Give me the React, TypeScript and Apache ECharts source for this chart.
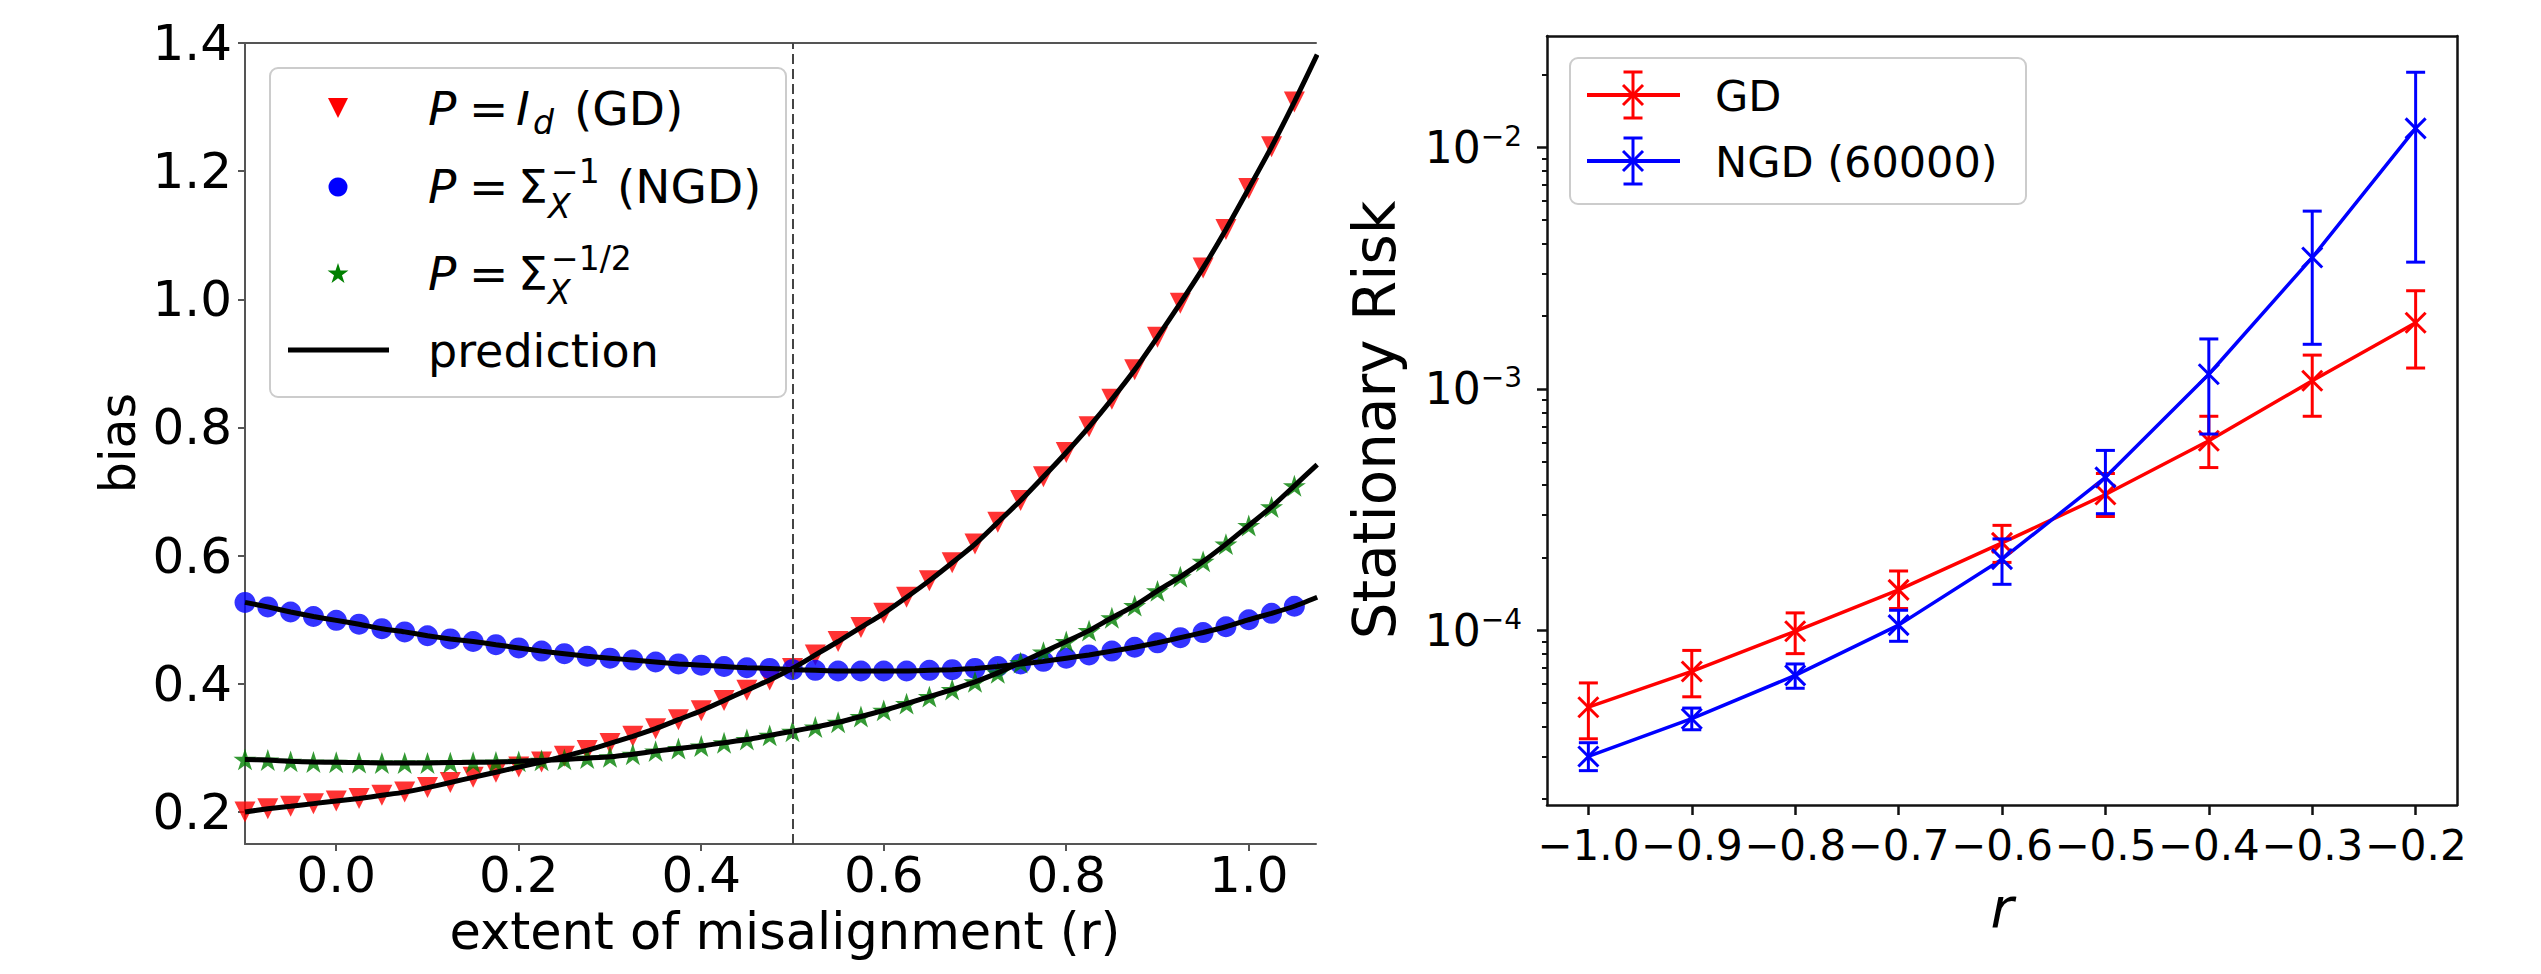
import React, { useEffect, useRef } from "react";
import * as echarts from "echarts";

const FONT = "DejaVu Sans";

// ---------- Left panel: bias vs extent of misalignment ----------
const misalignment = [
  -0.1, -0.075, -0.05, -0.025, 0, 0.025, 0.05, 0.075, 0.1, 0.125, 0.15, 0.175,
  0.2, 0.225, 0.25, 0.275, 0.3, 0.325, 0.35, 0.375, 0.4, 0.425, 0.45, 0.475,
  0.5, 0.525, 0.55, 0.575, 0.6, 0.625, 0.65, 0.675, 0.7, 0.725, 0.75, 0.775,
  0.8, 0.825, 0.85, 0.875, 0.9, 0.925, 0.95, 0.975, 1.0, 1.025, 1.05, 1.075,
];
const biasGD = [
  0.200, 0.205, 0.209, 0.213, 0.217, 0.221, 0.226, 0.231, 0.238, 0.246, 0.254, 0.262,
  0.270, 0.278, 0.287, 0.296, 0.307, 0.318, 0.330, 0.344, 0.358, 0.374, 0.390, 0.406,
  0.424, 0.445, 0.466, 0.488, 0.510, 0.535, 0.561, 0.589, 0.618, 0.652, 0.686, 0.723,
  0.761, 0.801, 0.844, 0.890, 0.941, 0.994, 1.049, 1.109, 1.173, 1.238, 1.308, 1.382,
];
const biasNGD = [
  0.527, 0.520, 0.512, 0.505, 0.499, 0.493, 0.486, 0.481, 0.475, 0.470, 0.466, 0.461,
  0.456, 0.451, 0.447, 0.443, 0.440, 0.437, 0.434, 0.431, 0.429, 0.427, 0.425, 0.424,
  0.422, 0.421, 0.420, 0.420, 0.420, 0.420, 0.421, 0.422, 0.424, 0.427, 0.431, 0.435,
  0.440, 0.445, 0.451, 0.457, 0.464, 0.472, 0.480, 0.489, 0.500, 0.510, 0.521, 0.535,
];
const biasHalf = [
  0.282, 0.281, 0.279, 0.278, 0.2775, 0.277, 0.2765, 0.2765, 0.2765, 0.277, 0.2775, 0.278,
  0.279, 0.2805, 0.282, 0.284, 0.286, 0.290, 0.295, 0.299, 0.303, 0.308, 0.313, 0.3195,
  0.326, 0.3325, 0.340, 0.349, 0.3585, 0.369, 0.380, 0.391, 0.403, 0.417, 0.433, 0.4495,
  0.466, 0.483, 0.503, 0.522, 0.545, 0.567, 0.591, 0.618, 0.647, 0.676, 0.709, 0.742,
];
const thresholdR = 0.5;
const leftXTicks = [0.0, 0.2, 0.4, 0.6, 0.8, 1.0];
const leftYTicks = [0.2, 0.4, 0.6, 0.8, 1.0, 1.2, 1.4];

// ---------- Right panel: stationary risk vs r ----------
const rValues = [-1.0, -0.9, -0.8, -0.7, -0.6, -0.5, -0.4, -0.3, -0.2];
const riskGD = [4.8e-5, 6.75e-5, 9.9e-5, 1.47e-4, 2.3e-4, 3.65e-4, 6.1e-4, 1.08e-3, 1.88e-3];
const riskGDLow = [3.55e-5, 5.3e-5, 8.0e-5, 1.23e-4, 1.91e-4, 2.96e-4, 4.72e-4, 7.7e-4, 1.22e-3];
const riskGDHigh = [6.05e-5, 8.25e-5, 1.18e-4, 1.76e-4, 2.72e-4, 4.46e-4, 7.7e-4, 1.38e-3, 2.55e-3];
const riskNGD = [3.0e-5, 4.3e-5, 6.5e-5, 1.05e-4, 1.97e-4, 4.3e-4, 1.15e-3, 3.5e-3, 1.2e-2];
const riskNGDLow = [2.62e-5, 3.87e-5, 5.75e-5, 9.0e-5, 1.55e-4, 3.04e-4, 6.5e-4, 1.53e-3, 3.35e-3];
const riskNGDHigh = [3.42e-5, 4.76e-5, 7.25e-5, 1.21e-4, 2.39e-4, 5.56e-4, 1.61e-3, 5.45e-3, 2.05e-2];
const rightYMajor = [1e-4, 1e-3, 1e-2];
const rightYMinor = [
  2e-5, 3e-5, 4e-5, 5e-5, 6e-5, 7e-5, 8e-5, 9e-5,
  2e-4, 3e-4, 4e-4, 5e-4, 6e-4, 7e-4, 8e-4, 9e-4,
  2e-3, 3e-3, 4e-3, 5e-3, 6e-3, 7e-3, 8e-3, 9e-3,
  2e-2,
];

const TRI_DOWN = "path://M0,0L20,0L10,20Z";
const STAR =
  "path://M50,0L61.23,34.55L97.55,34.55L68.17,55.9L79.39,90.45L50,69.1L20.61,90.45L31.83,55.9L2.45,34.55L38.77,34.55Z";

const LEFT_GRAY = "#555555";
const RIGHT_BLACK = "#111111";

function starPoints(cx: number, cy: number, R: number) {
  const pts: number[][] = [];
  for (let k = 0; k < 10; k++) {
    const ang = -Math.PI / 2 + (k * Math.PI) / 5;
    const rad = k % 2 === 0 ? R : R * 0.382;
    pts.push([cx + rad * Math.cos(ang), cy + rad * Math.sin(ang)]);
  }
  return pts;
}

function txt(x: number, y: number, text: string, size: number, opts: any = {}) {
  const style: any = {
    text,
    fontSize: size,
    fontFamily: FONT,
    fontStyle: opts.italic ? "italic" : "normal",
    fill: "#000",
    align: opts.align || "left",
    verticalAlign: "middle",
    textAlign: opts.align || "left",
    textVerticalAlign: "middle",
  };
  if (opts.lineHeight) style.lineHeight = opts.lineHeight;
  return {
    type: "text",
    x,
    y,
    rotation: opts.rotation || 0,
    z: 100,
    style,
  };
}

function seg(x1: number, y1: number, x2: number, y2: number, color: string, w: number) {
  return {
    type: "line",
    z: 100,
    shape: { x1, y1, x2, y2 },
    style: { stroke: color, lineWidth: w },
  };
}

function errorBarSeries(name: string, color: string, mean: number[], low: number[], high: number[]) {
  return {
    type: "custom",
    name,
    xAxisIndex: 2,
    yAxisIndex: 1,
    z: 6,
    encode: { x: 0, y: 1 },
    data: rValues.map((r, i) => [r, mean[i], low[i], high[i]]),
    renderItem: (_params: any, api: any) => {
      const x = api.value(0);
      const c = api.coord([x, api.value(1)]);
      const lo = api.coord([x, api.value(2)]);
      const hi = api.coord([x, api.value(3)]);
      const cap = 9.5;
      const m = 10;
      const st = { stroke: color, lineWidth: 3, fill: null };
      const ln = (x1: number, y1: number, x2: number, y2: number) => ({
        type: "line",
        shape: { x1, y1, x2, y2 },
        style: st,
      });
      return {
        type: "group",
        children: [
          ln(lo[0], lo[1], hi[0], hi[1]),
          ln(lo[0] - cap, lo[1], lo[0] + cap, lo[1]),
          ln(hi[0] - cap, hi[1], hi[0] + cap, hi[1]),
          ln(c[0] - m, c[1] - m, c[0] + m, c[1] + m),
          ln(c[0] - m, c[1] + m, c[0] + m, c[1] - m),
        ],
      };
    },
  };
}

function legendErrorGlyph(cx: number, cy: number, color: string) {
  return [
    seg(1587, cy, 1680, cy, color, 4),
    seg(cx, cy - 23, cx, cy + 23, color, 3),
    seg(cx - 9.5, cy - 23, cx + 9.5, cy - 23, color, 3),
    seg(cx - 9.5, cy + 23, cx + 9.5, cy + 23, color, 3),
    seg(cx - 10, cy - 10, cx + 10, cy + 10, color, 3),
    seg(cx - 10, cy + 10, cx + 10, cy - 10, color, 3),
  ];
}

export default function App() {
  const ref = useRef<HTMLDivElement>(null);

  useEffect(() => {
    if (!ref.current) return;
    const chart = echarts.init(ref.current, undefined, { renderer: "svg" });

    const leftLabel = { fontSize: 50, fontFamily: FONT, color: "#000", showMinLabel: true, showMaxLabel: true };
    const rightLabel = { fontSize: 42, fontFamily: FONT, color: "#000", showMinLabel: true, showMaxLabel: true };
    const fmt1 = (v: number) => (v < 0 ? "\u2212" : "") + Math.abs(v).toFixed(1);

    const rightYMin = 1.888e-5;
    const rightYMax = 0.02897;

    const option: any = {
      animation: false,
      backgroundColor: "#ffffff",
      grid: [
        { left: 245, top: 43, width: 1071, height: 801, containLabel: false, outerBoundsMode: "none" },
        { left: 1547, top: 36, width: 910, height: 769, containLabel: false, outerBoundsMode: "none" },
      ],
      xAxis: [
        {
          type: "value", gridIndex: 0, position: "bottom", min: -0.1, max: 1.0737,
          axisLine: { show: true, onZero: false, lineStyle: { color: LEFT_GRAY, width: 2 } },
          axisTick: { show: true, length: 7, customValues: leftXTicks, lineStyle: { color: LEFT_GRAY, width: 2 } },
          axisLabel: { ...leftLabel, margin: 9, lineHeight: 44, customValues: leftXTicks, formatter: fmt1, hideOverlap: false },
          splitLine: { show: false },
        },
        {
          type: "value", gridIndex: 0, position: "top", min: -0.1, max: 1.0737,
          axisLine: { show: true, onZero: false, lineStyle: { color: LEFT_GRAY, width: 2 } },
          axisTick: { show: false }, axisLabel: { show: false }, splitLine: { show: false },
        },
        {
          type: "value", gridIndex: 1, position: "bottom", min: -1.04, max: -0.16,
          axisLine: { show: true, onZero: false, lineStyle: { color: RIGHT_BLACK, width: 2.5 } },
          axisTick: { show: true, length: 10, customValues: rValues, lineStyle: { color: RIGHT_BLACK, width: 2.5 } },
          axisLabel: { ...rightLabel, margin: 19, customValues: rValues, formatter: fmt1, hideOverlap: false },
          splitLine: { show: false },
        },
        {
          type: "value", gridIndex: 1, position: "top", min: -1.04, max: -0.16,
          axisLine: { show: true, onZero: false, lineStyle: { color: RIGHT_BLACK, width: 2.5 } },
          axisTick: { show: false }, axisLabel: { show: false }, splitLine: { show: false },
        },
      ],
      yAxis: [
        {
          type: "value", gridIndex: 0, position: "left", min: 0.15, max: 1.4,
          axisLine: { show: true, onZero: false, lineStyle: { color: LEFT_GRAY, width: 2 } },
          axisTick: { show: true, length: 7, customValues: leftYTicks, lineStyle: { color: LEFT_GRAY, width: 2 } },
          axisLabel: { ...leftLabel, margin: 13, customValues: leftYTicks, formatter: fmt1 },
          splitLine: { show: false },
        },
        {
          type: "log", logBase: 10, gridIndex: 1, position: "left", min: rightYMin, max: rightYMax,
          axisLine: { show: true, onZero: false, lineStyle: { color: RIGHT_BLACK, width: 2.5 } },
          axisTick: { show: true, length: 10, customValues: rightYMajor, lineStyle: { color: RIGHT_BLACK, width: 2.5 } },
          axisLabel: {
            margin: 25,
            showMinLabel: true,
            showMaxLabel: true,
            customValues: rightYMajor,
            formatter: (v: number) => `{b|10}{s|\u2212${Math.round(-Math.log10(v))}}`,
            rich: {
              b: { fontSize: 44, fontFamily: FONT, color: "#000" },
              s: { fontSize: 28, fontFamily: FONT, color: "#000", padding: [0, 0, 22, 0] },
            },
          },
          splitLine: { show: false },
        },
        {
          type: "log", logBase: 10, gridIndex: 1, position: "left", min: rightYMin, max: rightYMax,
          axisLine: { show: false },
          axisTick: { show: true, length: 5, customValues: rightYMinor, lineStyle: { color: RIGHT_BLACK, width: 2 } },
          axisLabel: { show: false },
          splitLine: { show: false },
        },
        {
          type: "value", gridIndex: 1, position: "right", min: 0, max: 1,
          axisLine: { show: true, onZero: false, lineStyle: { color: RIGHT_BLACK, width: 2.5 } },
          axisTick: { show: false }, axisLabel: { show: false }, splitLine: { show: false },
        },
      ],
      series: [
        {
          type: "scatter", name: "GD", xAxisIndex: 0, yAxisIndex: 0, z: 2,
          symbol: TRI_DOWN, symbolSize: 21,
          itemStyle: { color: "#ff0000" },
          data: misalignment.map((x, i) => [x, biasGD[i]]),
        },
        {
          type: "scatter", name: "NGD", xAxisIndex: 0, yAxisIndex: 0, z: 2,
          symbol: "circle", symbolSize: 21,
          itemStyle: { color: "#0000ff" },
          data: misalignment.map((x, i) => [x, biasNGD[i]]),
        },
        {
          type: "scatter", name: "half", xAxisIndex: 0, yAxisIndex: 0, z: 2,
          symbol: STAR, symbolSize: 23, symbolKeepAspect: true,
          itemStyle: { color: "#008000" },
          data: misalignment.map((x, i) => [x, biasHalf[i]]),
        },
        {
          type: "line", name: "prediction GD", xAxisIndex: 0, yAxisIndex: 0, z: 3,
          showSymbol: false, smooth: 0.2,
          lineStyle: { color: "#000", width: 5 },
          data: misalignment.map((x, i) => [x, biasGD[i]]),
          markLine: {
            silent: true, symbol: "none", label: { show: false },
            lineStyle: { color: "#444", width: 2, type: [10, 5] },
            data: [{ xAxis: thresholdR }],
          },
        },
        {
          type: "line", name: "prediction NGD", xAxisIndex: 0, yAxisIndex: 0, z: 3,
          showSymbol: false, smooth: 0.2,
          lineStyle: { color: "#000", width: 5 },
          data: misalignment.map((x, i) => [x, biasNGD[i]]),
        },
        {
          type: "line", name: "prediction half", xAxisIndex: 0, yAxisIndex: 0, z: 3,
          showSymbol: false, smooth: 0.2,
          lineStyle: { color: "#000", width: 5 },
          data: misalignment.map((x, i) => [x, biasHalf[i]]),
        },
        {
          type: "line", name: "GD risk", xAxisIndex: 2, yAxisIndex: 1, z: 4,
          showSymbol: false,
          lineStyle: { color: "#ff0000", width: 3.5 },
          data: rValues.map((r, i) => [r, riskGD[i]]),
        },
        errorBarSeries("GD err", "#ff0000", riskGD, riskGDLow, riskGDHigh),
        {
          type: "line", name: "NGD risk", xAxisIndex: 2, yAxisIndex: 1, z: 4,
          showSymbol: false,
          lineStyle: { color: "#0000ff", width: 3.5 },
          data: rValues.map((r, i) => [r, riskNGD[i]]),
        },
        errorBarSeries("NGD err", "#0000ff", riskNGD, riskNGDLow, riskNGDHigh),
      ],
      graphic: [
        // ----- left legend -----
        {
          type: "rect", z: 90,
          shape: { x: 270, y: 68, width: 516, height: 329, r: 8 },
          style: { fill: "rgba(255,255,255,0.8)", stroke: "#cccccc", lineWidth: 2 },
        },
        { type: "polygon", z: 100, shape: { points: [[328, 98], [348, 98], [338, 118]] }, style: { fill: "#ff0000" } },
        { type: "circle", z: 100, shape: { cx: 338, cy: 187, r: 9.5 }, style: { fill: "#0000ff" } },
        { type: "polygon", z: 100, shape: { points: starPoints(338, 274, 11) }, style: { fill: "#008000" } },
        seg(288, 350, 389, 350, "#000", 5),
        txt(428, 108.5, "P", 47, { italic: true }),
        txt(469, 108.5, "=", 47),
        txt(516, 108.5, "I", 47, { italic: true }),
        txt(533, 122, "d", 33, { italic: true }),
        txt(574, 108.5, "(GD)", 47),
        txt(428, 186.5, "P", 47, { italic: true }),
        txt(469, 186.5, "=", 47),
        txt(518, 186.5, "\u03a3", 47),
        txt(548, 206, "X", 33, { italic: true, lineHeight: 26 }),
        txt(551, 171.5, "\u22121", 33, { lineHeight: 26 }),
        txt(617, 186.5, "(NGD)", 47),
        txt(428, 273.5, "P", 47, { italic: true }),
        txt(469, 273.5, "=", 47),
        txt(518, 273.5, "\u03a3", 47),
        txt(548, 292.5, "X", 33, { italic: true, lineHeight: 26 }),
        txt(551, 258, "\u22121/2", 33, { lineHeight: 26 }),
        txt(428, 350.5, "prediction", 46),
        // ----- left axis names -----
        txt(118, 443, "bias", 49, { align: "center", rotation: Math.PI / 2 }),
        txt(785, 931, "extent of misalignment (r)", 51, { align: "center", lineHeight: 42 }),
        // ----- right legend -----
        {
          type: "rect", z: 90,
          shape: { x: 1570, y: 58, width: 456, height: 146, r: 8 },
          style: { fill: "rgba(255,255,255,0.8)", stroke: "#cccccc", lineWidth: 2 },
        },
        ...legendErrorGlyph(1633, 95, "#ff0000"),
        ...legendErrorGlyph(1633, 161, "#0000ff"),
        txt(1715, 96, "GD", 43),
        txt(1715, 162, "NGD (60000)", 43),
        // ----- right axis names -----
        txt(1375, 420, "Stationary Risk", 58, { align: "center", rotation: Math.PI / 2 }),
        txt(2002, 907, "r", 56, { align: "center", italic: true }),
      ],
    };

    chart.setOption(option);
    return () => chart.dispose();
  }, []);

  return (
    <div
      ref={ref}
      style={{ position: "fixed", left: 0, top: 0, width: "2541px", height: "974px", background: "#fff" }}
    />
  );
}
